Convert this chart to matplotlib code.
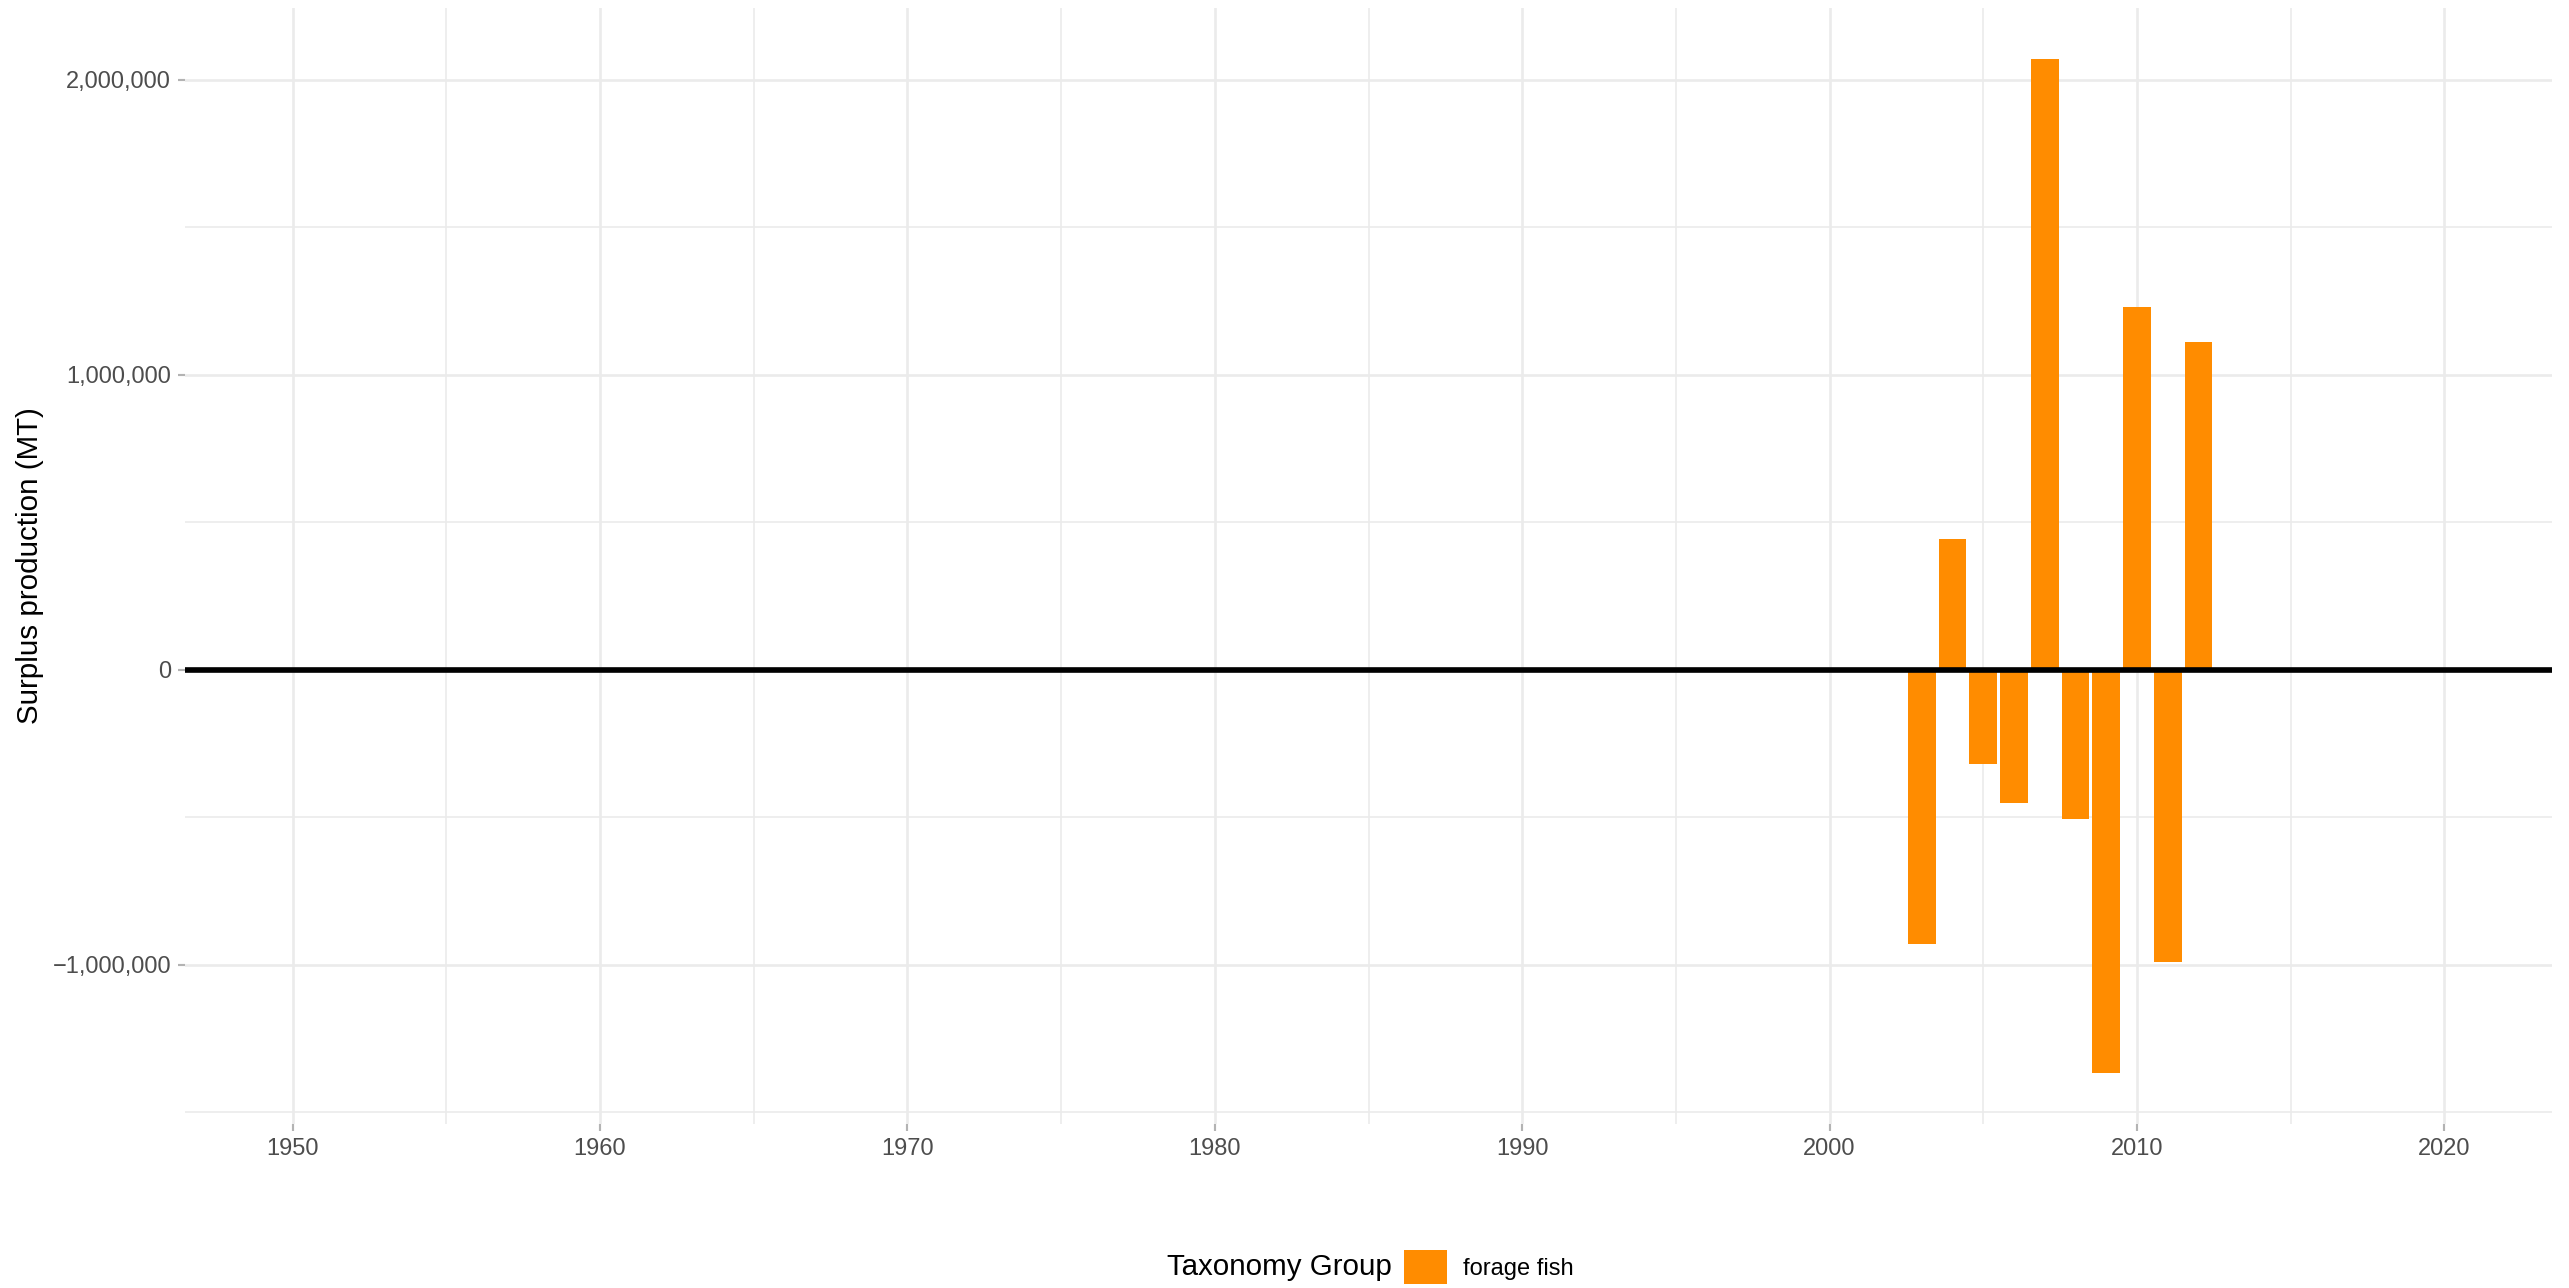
"""Surplus production bar chart for forage fish (ggplot-minimal look)."""

import matplotlib

matplotlib.use("Agg")
import matplotlib.pyplot as plt
from matplotlib.patches import Patch
from matplotlib.ticker import FuncFormatter, MultipleLocator

# data
years = [2003, 2004, 2005, 2006, 2007, 2008, 2009, 2010, 2011, 2012]
surplus = [-931000, 444000, -320000, -451000, 2071000,
           -506000, -1368000, 1229000, -991000, 1112000]
group = "forage fish"
year_limits = (1950, 2020)
y_ticks = [-1000000, 0, 1000000, 2000000]

BAR_COLOR = "#FF8C00"
GRID_COLOR = "#EBEBEB"
TICK_TEXT = "#4D4D4D"
DPI = 193
W, H = 2569, 1288

plt.rcParams["font.family"] = ["Liberation Sans", "DejaVu Sans"]


def _comma(v, _pos=None):
    s = f"{abs(v):,.0f}"
    return "\u2212" + s if v < 0 else s


fig = plt.figure(figsize=(W / DPI, H / DPI), dpi=DPI)
left, right, top, bottom = 185, 2552, 8, 1124
ax = fig.add_axes([left / W, 1 - bottom / H, (right - left) / W, (bottom - top) / H])

ax.bar(years, surplus, width=0.9, color=BAR_COLOR, zorder=2)
ax.axhline(0, color="black", linewidth=2.1, zorder=3)

# ggplot-style 5% expansion
span = year_limits[1] - year_limits[0]
ax.set_xlim(year_limits[0] - 0.05 * span, year_limits[1] + 0.05 * span)
ymin, ymax = min(min(surplus), 0), max(max(surplus), 0)
yr = ymax - ymin
ax.set_ylim(ymin - 0.05 * yr, ymax + 0.05 * yr)

ax.xaxis.set_major_locator(MultipleLocator(10))
ax.xaxis.set_minor_locator(MultipleLocator(5))
ax.set_yticks(y_ticks)
ax.yaxis.set_minor_locator(MultipleLocator(500000))
ax.yaxis.set_major_formatter(FuncFormatter(_comma))

ax.grid(True, which="major", color=GRID_COLOR, linewidth=1.0, zorder=0)
ax.grid(True, which="minor", color=GRID_COLOR, linewidth=0.6, zorder=0)
ax.set_axisbelow(True)
for spine in ax.spines.values():
    spine.set_visible(False)

ax.tick_params(which="major", length=2.6, width=0.8, color="#B3B3B3",
               labelsize=8.8, labelcolor=TICK_TEXT, pad=2.6)
ax.tick_params(which="minor", length=0)

ax.set_ylabel("Surplus production (MT)", fontsize=11, color="black", labelpad=3)

# legend at the bottom, title to the left of the key
leg_y = 1 - 1267 / H
fig.text(1167 / W, leg_y, "Taxonomy Group", fontsize=11, va="center", ha="left")
fig.legend(handles=[Patch(facecolor=BAR_COLOR, edgecolor="none")], labels=[group],
           loc="center left", bbox_to_anchor=(1404 / W, leg_y), frameon=False,
           fontsize=8.8, handlelength=1.82, handleheight=1.82, handletextpad=0.68,
           borderpad=0, borderaxespad=0)

fig.savefig("out.png", dpi=DPI)
plt.close(fig)
